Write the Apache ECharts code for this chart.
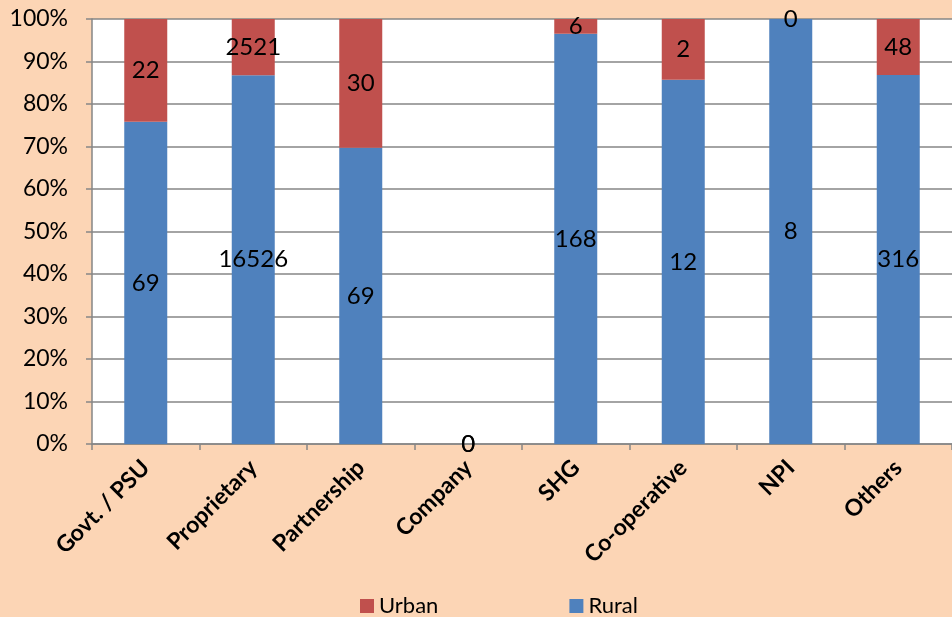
<!DOCTYPE html>
<html><head><meta charset="utf-8">
<script src="https://cdn.jsdelivr.net/npm/echarts@6/dist/echarts.min.js"></script>
<style>html,body{margin:0;padding:0;background:#FCD5B5;}#c{width:952px;height:617px;}</style>
</head><body><div id="c"></div>
<script>
const categories = ['Govt. / PSU','Proprietary','Partnership','Company','SHG','Co-operative','NPI','Others'];
const rural = [69, 16526, 69, 0, 168, 12, 8, 316];
const urban = [22, 2521, 30, 0, 6, 2, 0, 48];
const yTicks = [0,10,20,30,40,50,60,70,80,90,100];

const totals = categories.map((c,i)=>rural[i]+urban[i]);
const pct = (arr)=>arr.map((v,i)=> totals[i] ? v/totals[i]*100 : 0);
const FONT = 'Lato';
const lbl = (arr)=>({show:true, position:'inside', color:'#000', fontFamily:FONT, fontSize:24,
  formatter:(p)=>String(arr[p.dataIndex])});

const chart = echarts.init(document.getElementById('c'), null, {renderer:'canvas'});
chart.setOption({
  backgroundColor:'#FCD5B5',
  animation:false,
  grid:{left:92, right:-4, top:19, bottom:173, containLabel:false, show:true, backgroundColor:'#fff', borderWidth:0},
  legend:{data:['Urban','Rural'], left:355, top:590, itemGap:131, itemWidth:14, itemHeight:14, icon:'rect',
    textStyle:{fontFamily:FONT, fontSize:22, color:'#000'}},
  xAxis:{type:'category', data:categories,
    axisLine:{lineStyle:{color:'#868686', width:1.5}},
    axisTick:{show:true, length:6, lineStyle:{color:'#868686', width:1.5}},
    axisLabel:{rotate:45, fontFamily:FONT, fontSize:23, color:'#000', margin:20, fontWeight:'bold'}},
  yAxis:{type:'value', min:0, max:100, interval:10,
    axisLine:{show:true, lineStyle:{color:'#868686', width:1.5}},
    axisTick:{show:true, length:6, lineStyle:{color:'#868686', width:1.5}},
    splitLine:{lineStyle:{color:'#868686', width:1.5}},
    axisLabel:{formatter:(v)=> yTicks.includes(v) ? v+'%' : '', fontFamily:FONT, fontSize:23, color:'#000', margin:24}},
  series:[
    {name:'Rural', type:'bar', stack:'s', barWidth:43, data:pct(rural), itemStyle:{color:'#4F81BD'}, label:lbl(rural)},
    {name:'Urban', type:'bar', stack:'s', barWidth:43, data:pct(urban), itemStyle:{color:'#C0504D'}, label:lbl(urban)}
  ]
});
</script></body></html>
